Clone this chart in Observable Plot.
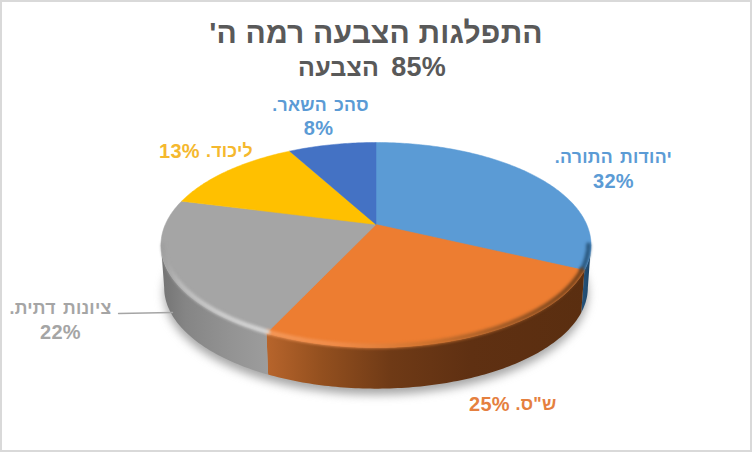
<!DOCTYPE html>
<html lang="he">
<head>
<meta charset="utf-8">
<script src="https://cdn.jsdelivr.net/npm/d3@7"></script>
<script src="https://cdn.jsdelivr.net/npm/@observablehq/plot@0.6"></script>
<style>
html,body{margin:0;padding:0;background:#fff;width:752px;height:452px;overflow:hidden}
#frame{position:absolute;left:0;top:0;width:752px;height:452px;box-sizing:border-box;border:2px solid #d9d9d9;pointer-events:none}
#head{height:90px;box-sizing:border-box;padding-top:15px;text-align:center;direction:rtl;color:#595959;font:bold 30px/35px "Liberation Sans",Arial,sans-serif;letter-spacing:.2px}
#head div+div{font-size:25px;line-height:35px;word-spacing:5px;position:relative;left:-4px}
#head span{font-size:27px}
svg{display:block}
</style>
</head>
<body>
<div id="head"><div>התפלגות הצבעה רמה ה'</div><div><span>85%</span> הצבעה</div></div>
<div id="chart"></div>
<div id="frame"></div>
<script>
const names = ["יהודות התורה.", "ש\"ס.", "ציונות דתית.", "ליכוד.", "סהכ השאר."];
const shares = [32, 25, 22, 13, 8];
const shareLabels = ["32%", "25%", "22%", "13%", "8%"];
const colors = ["#5b9bd5", "#ed7d31", "#a5a5a5", "#ffc000", "#4472c4"];
const labelColors = ["#5b9bd5", "#e5803f", "#a5a5a5", "#f5b82e", "#5b9bd5"];
// label layout (page pixels)
const nameX = [613, 535.5, 60, 229, 320];
const nameY = [157, 404, 308, 151, 105];
const valueX = [613, 489, 60, 179, 318];
const valueY = [181, 404, 332, 151, 128];

// Projection of the tilted disc: centre, half axes, perspective.
const cx = 375.5, cy = 224, A = 210.7, B = 98.4, k = 0.2;
const depth = 43, shrink = 0.985;
function project(t, s = 1, dy = 0) {
  const u = Math.sin(t), v = Math.cos(t), w = 1 + k * v;
  return {x: cx + s * A * u / w, y: cy + dy - s * B * v / w};
}
function arc(a0, a1, s = 1, dy = 0) {
  const n = Math.max(2, Math.ceil(Math.abs(a1 - a0) / 0.015));
  return d3.range(n + 1).map(i => project(a0 + (a1 - a0) * i / n, s, dy));
}
const pie = d3.pie().sort(null).value(d => d)(shares);
const frontStart = Math.acos(-k), frontEnd = 2 * Math.PI - Math.acos(-k);
const centre = {x: cx, y: cy};

const topPts = pie.flatMap((p, i) =>
  [centre, ...arc(p.startAngle, p.endAngle), centre].map(q => ({...q, name: names[i]})));

function front(i) {
  return [Math.max(pie[i].startAngle, frontStart), Math.min(pie[i].endAngle, frontEnd)];
}
function side(i) {
  const [a0, a1] = front(i);
  return [...arc(a0, a1), ...arc(a0, a1, shrink, depth).reverse()];
}
function rim(i, inset) {
  const [a0, a1] = front(i);
  return arc(a0, a1, inset);
}
const sideGrad = ["url(#sideBlue)", "url(#sideOrange)", "url(#sideGrey)"];
const rimGrad = ["#2a587f", "url(#rimOrange)", "url(#rimGrey)"];

function gradient(id, stops) {
  return `<linearGradient id="${id}" gradientUnits="userSpaceOnUse" x1="160" x2="590" y1="0" y2="0">` +
    stops.map(([x, c]) => `<stop offset="${(x - 160) / 430}" stop-color="${c}"/>`).join("") + `</linearGradient>`;
}
function defs() {
  const g = document.createElementNS("http://www.w3.org/2000/svg", "g");
  g.innerHTML = "<defs>" +
    gradient("sideGrey", [[160, "#737373"], [185, "#858585"], [230, "#939393"], [266, "#9c9c9c"]]) +
    gradient("sideOrange", [[265, "#b8652c"], [320, "#94501f"], [390, "#6f3a16"], [470, "#5f3012"], [585, "#5a2e10"]]) +
    gradient("sideBlue", [[575, "#2c5d88"], [592, "#1d4568"]]) +
    gradient("rimOrange", [[265, "#f49a5c"], [340, "#f08c4a"], [420, "#d0742f"], [500, "#a05a26"], [585, "#70401a"]]) +
    gradient("rimGrey", [[160, "#9a9a9a"], [180, "#bcbcbc"], [220, "#cfcfcf"], [266, "#d6d6d6"]]) +
    "</defs>";
  return g;
}

const chart = Plot.plot({
  width: 752, height: 362,
  margin: 0,
  x: {domain: [0, 752], range: [0, 752], axis: null},
  y: {domain: [90, 452], range: [0, 362], axis: null},
  color: {domain: names, range: colors},
  style: {background: "transparent", direction: "rtl", wordSpacing: "2px", letterSpacing: "0.25px", fontFamily: "'Liberation Sans', Arial, sans-serif"},
  marks: [
    defs,
    Plot.line(arc(0, 2 * Math.PI, shrink, depth + 6), {x: "x", y: "y", fill: "#808080", stroke: "none", fillOpacity: 0.7, imageFilter: "blur(5px)"}),
    ...[0, 1, 2].map(i => Plot.line(side(i), {x: "x", y: "y", fill: sideGrad[i], stroke: "none"})),
    Plot.line(topPts, {x: "x", y: "y", z: "name", fill: "name", stroke: "name", strokeWidth: 0.5}),
    ...[0, 1, 2].map(i => Plot.line(rim(i, 0.988), {x: "x", y: "y", stroke: rimGrad[i], strokeWidth: 4.5, imageFilter: "blur(1.6px)"})),
    Plot.line([{x: 118, y: 313}, {x: 172, y: 312}], {x: "x", y: "y", stroke: "#a5a5a5", strokeWidth: 1.3}),
    Plot.text(names, {
      x: (d, i) => nameX[i], y: (d, i) => nameY[i], text: d => d,
      fill: (d, i) => labelColors[i], fontSize: 17.7, fontWeight: "bold", textAnchor: "middle", stroke: "none"
    }),
    Plot.text(shareLabels, {
      x: (d, i) => valueX[i], y: (d, i) => valueY[i], text: d => d,
      fill: (d, i) => labelColors[i], fontSize: 20, fontWeight: "bold", textAnchor: "middle", stroke: "none"
    })
  ]
});
document.getElementById("chart").append(chart);
</script>
</body>
</html>
